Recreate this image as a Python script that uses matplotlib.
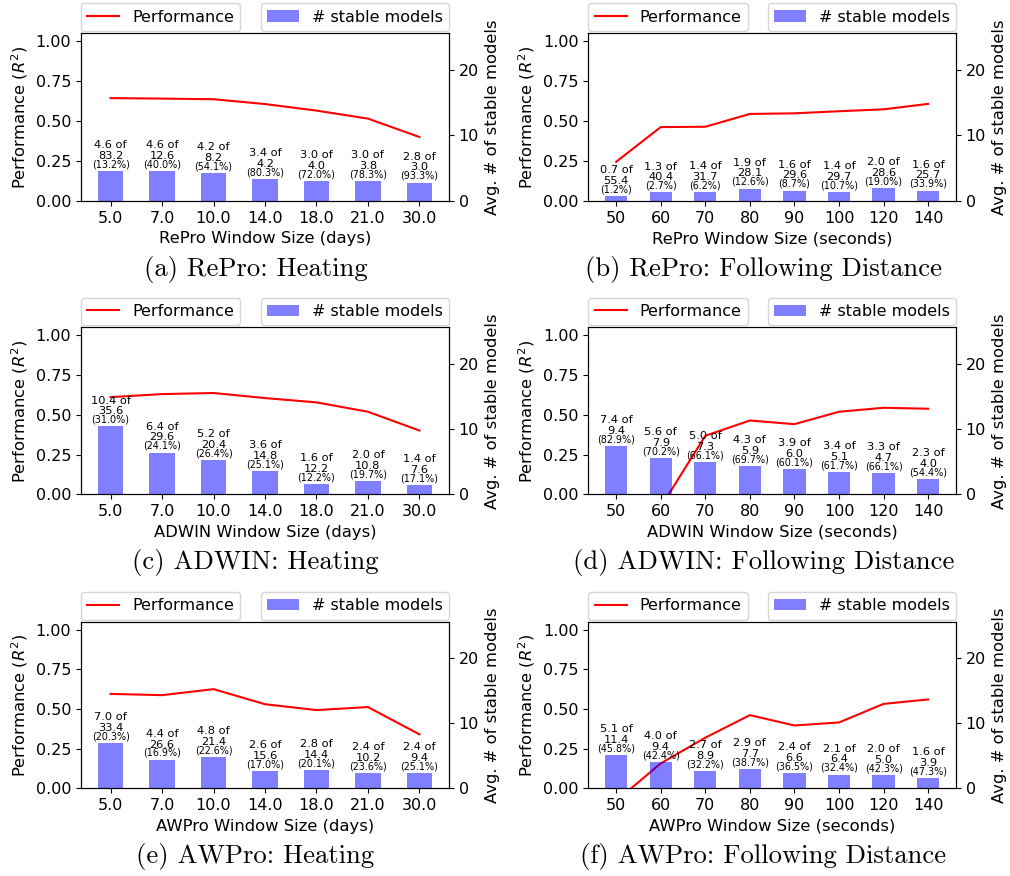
import numpy as np
import matplotlib
matplotlib.use('Agg')
import matplotlib.pyplot as plt
from matplotlib.ticker import FormatStrFormatter

plt.rcParams['font.size'] = 11.5
plt.rcParams['axes.labelsize'] = 11.8

# ---------------- data ----------------
heating_windows = ["5.0", "7.0", "10.0", "14.0", "18.0", "21.0", "30.0"]
fd_windows = ["50", "60", "70", "80", "90", "100", "120", "140"]

# (a) RePro: Heating
repro_heat_perf = [0.643, 0.640, 0.636, 0.606, 0.565, 0.515, 0.400]
repro_heat_stable = [4.6, 4.6, 4.2, 3.4, 3.0, 3.0, 2.8]
repro_heat_total = [83.2, 12.6, 8.2, 4.2, 4.0, 3.8, 3.0]
repro_heat_pct = [13.2, 40.0, 54.1, 80.3, 72.0, 78.3, 93.3]

# (b) RePro: Following Distance
repro_fd_perf = [0.245, 0.462, 0.464, 0.544, 0.548, 0.561, 0.573, 0.607]
repro_fd_stable = [0.7, 1.3, 1.4, 1.9, 1.6, 1.4, 2.0, 1.6]
repro_fd_total = [55.4, 40.4, 31.7, 28.1, 29.6, 29.7, 28.6, 25.7]
repro_fd_pct = [1.2, 2.7, 6.2, 12.6, 8.7, 10.7, 19.0, 33.9]

# (c) ADWIN: Heating
adwin_heat_perf = [0.611, 0.630, 0.637, 0.605, 0.578, 0.519, 0.401]
adwin_heat_stable = [10.4, 6.4, 5.2, 3.6, 1.6, 2.0, 1.4]
adwin_heat_total = [35.6, 29.6, 20.4, 14.8, 12.2, 10.8, 7.6]
adwin_heat_pct = [31.0, 24.1, 26.4, 25.1, 12.2, 19.7, 17.1]

# (d) ADWIN: Following Distance
adwin_fd_perf = [-0.25, -0.080, 0.368, 0.464, 0.441, 0.519, 0.544, 0.538]
adwin_fd_stable = [7.4, 5.6, 5.0, 4.3, 3.9, 3.4, 3.3, 2.3]
adwin_fd_total = [9.4, 7.9, 7.3, 5.9, 6.0, 5.1, 4.7, 4.0]
adwin_fd_pct = [82.9, 70.2, 66.1, 69.7, 60.1, 61.7, 66.1, 54.4]

# (e) AWPro: Heating
awpro_heat_perf = [0.595, 0.587, 0.625, 0.530, 0.493, 0.512, 0.340]
awpro_heat_stable = [7.0, 4.4, 4.8, 2.6, 2.8, 2.4, 2.4]
awpro_heat_total = [33.4, 26.6, 21.4, 15.6, 14.4, 10.2, 9.4]
awpro_heat_pct = [20.3, 16.9, 22.6, 17.0, 20.1, 23.6, 25.1]

# (f) AWPro: Following Distance
awpro_fd_perf = [-0.080, 0.157, 0.319, 0.461, 0.396, 0.415, 0.532, 0.560]
awpro_fd_stable = [5.1, 4.0, 2.7, 2.9, 2.4, 2.1, 2.0, 1.6]
awpro_fd_total = [11.4, 9.4, 8.9, 7.7, 6.6, 6.4, 5.0, 3.9]
awpro_fd_pct = [45.8, 42.4, 32.2, 38.7, 36.5, 32.4, 42.3, 47.3]

# ---------------- figure ----------------
W, H = 1010, 876
fig = plt.figure(figsize=(W / 100, H / 100), dpi=100)


def px_axes(left, top, right, bottom):
    return [left / W, 1 - bottom / H, (right - left) / W, (bottom - top) / H]


def panel(rect, xlabels, perf, stable, total, pct, xlabel, caption, cap_x, cap_y):
    ax = fig.add_axes(rect)
    n = len(xlabels)
    x = np.arange(n)
    ax.plot(x, perf, color='red', lw=1.5, label='Performance')
    ax.set_ylim(0, 1.05)
    ax.set_yticks([0, 0.25, 0.5, 0.75, 1.0])
    ax.yaxis.set_major_formatter(FormatStrFormatter('%.2f'))
    ax.set_ylabel('Performance ($R^2$)')
    ax.set_xlabel(xlabel)
    ax2 = ax.twinx()
    ax2.bar(x, stable, width=0.5, color='blue', alpha=0.5, label='# stable models')
    ax2.set_ylim(0, 25.6)
    ax2.set_yticks([0, 10, 20])
    ax2.set_ylabel('Avg. # of stable models')
    ax.set_xticks(x)
    ax.set_xticklabels(xlabels)
    m = 0.05 * (n - 0.5)
    ax.set_xlim(-0.25 - m, n - 1 + 0.25 + m)
    for xi, s, t, p in zip(x, stable, total, pct):
        ax2.annotate(f'({p:.1f}%)', (xi, s), xytext=(0, 1.2), textcoords='offset points',
                     ha='center', va='bottom', fontsize=6.9)
        ax2.annotate(f'{s:.1f} of\n{t:.1f}', (xi, s), xytext=(0, 7.3), textcoords='offset points',
                     ha='center', va='bottom', fontsize=8.2, linespacing=1.1)
    ax.legend(loc='lower left', bbox_to_anchor=(0, 1.012), borderaxespad=0)
    ax2.legend(loc='lower right', bbox_to_anchor=(1, 1.012), borderaxespad=0)
    fig.text(cap_x, cap_y, caption, family='cmr10', fontsize=19.2, ha='center', va='center')


L1, R1 = 81, 449
L2, R2 = 588.3, 956
rows = [(33, 201), (327.3, 494.3), (621.7, 788.3)]
cap_y = [1 - 269 / H, 1 - 562 / H, 1 - 856.5 / H]
cx1, cx2 = 255.5 / W, 763.5 / W

panel(px_axes(L1, rows[0][0], R1, rows[0][1]), heating_windows, repro_heat_perf, repro_heat_stable,
      repro_heat_total, repro_heat_pct, 'RePro Window Size (days)', '(a) RePro: Heating', cx1, cap_y[0])
panel(px_axes(L2, rows[0][0], R2, rows[0][1]), fd_windows, repro_fd_perf, repro_fd_stable,
      repro_fd_total, repro_fd_pct, 'RePro Window Size (seconds)', '(b) RePro: Following Distance', cx2, cap_y[0])
panel(px_axes(L1, rows[1][0], R1, rows[1][1]), heating_windows, adwin_heat_perf, adwin_heat_stable,
      adwin_heat_total, adwin_heat_pct, 'ADWIN Window Size (days)', '(c) ADWIN: Heating', cx1, cap_y[1])
panel(px_axes(L2, rows[1][0], R2, rows[1][1]), fd_windows, adwin_fd_perf, adwin_fd_stable,
      adwin_fd_total, adwin_fd_pct, 'ADWIN Window Size (seconds)', '(d) ADWIN: Following Distance', cx2, cap_y[1])
panel(px_axes(L1, rows[2][0], R1, rows[2][1]), heating_windows, awpro_heat_perf, awpro_heat_stable,
      awpro_heat_total, awpro_heat_pct, 'AWPro Window Size (days)', '(e) AWPro: Heating', cx1, cap_y[2])
panel(px_axes(L2, rows[2][0], R2, rows[2][1]), fd_windows, awpro_fd_perf, awpro_fd_stable,
      awpro_fd_total, awpro_fd_pct, 'AWPro Window Size (seconds)', '(f) AWPro: Following Distance', cx2, cap_y[2])

fig.savefig('out.png', dpi=100)
